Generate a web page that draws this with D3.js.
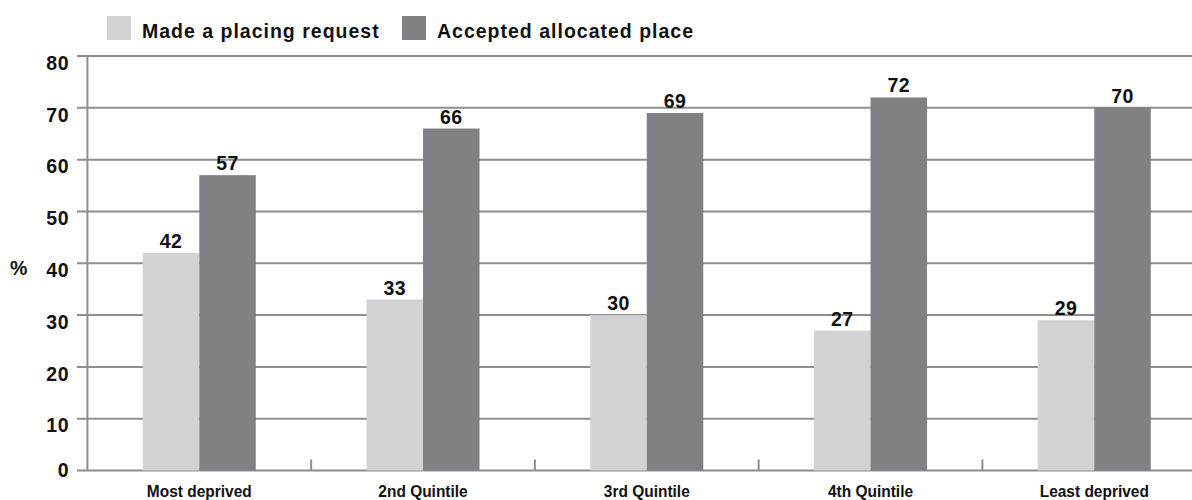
<!DOCTYPE html>
<html>
<head>
<meta charset="utf-8">
<script src="https://cdn.jsdelivr.net/npm/d3@7"></script>
<style>
  html, body { margin: 0; padding: 0; background: #fff; }
  svg { display: block; }
  text { font-family: "Liberation Sans", Arial, Helvetica, sans-serif; font-weight: bold; fill: #111; }
</style>
</head>
<body>
<svg id="chart" width="1192" height="500"></svg>
<script>
// Share of children by deprivation quintile
const categories = ["Most deprived", "2nd Quintile", "3rd Quintile", "4th Quintile", "Least deprived"];
const seriesNames = ["Made a placing request", "Accepted allocated place"];
const placingRequest = [42, 33, 30, 27, 29];
const acceptedPlace = [57, 66, 69, 72, 70];
const yTicks = [0, 10, 20, 30, 40, 50, 60, 70, 80];
const colors = ["#d1d2d4", "#808184"];

const svg = d3.select("#chart");
const gridColor = "#8e8e91";
const labelSize = 19.5;
const spacing = 1;

const x0 = 87.4, step = 223.75;
const x = d3.scaleBand()
  .domain(categories)
  .range([x0, x0 + step * categories.length])
  .padding(0);
const inner = d3.scaleBand()
  .domain([0, 1])
  .range([0, 113])
  .padding(0);

const y = d3.scaleLinear().domain([0, 80]).range([470.5, 56]);

// horizontal gridlines with outward tick stubs
svg.append("g").selectAll("line")
  .data(yTicks)
  .join("line")
  .attr("x1", 77).attr("x2", 1192)
  .attr("y1", d => y(d)).attr("y2", d => y(d))
  .attr("stroke", gridColor).attr("stroke-width", 2);

// y tick labels sit just under their gridline; the zero label is centred on the baseline
svg.append("g").selectAll("text")
  .data(yTicks)
  .join("text")
  .attr("x", 69)
  .attr("y", d => y(d) + (d === 0 ? 6.5 : 13.8))
  .attr("text-anchor", "end")
  .attr("font-size", labelSize)
  .attr("letter-spacing", 0.5)
  .text(d => d);

// vertical axis line
svg.append("line")
  .attr("x1", x0).attr("x2", x0)
  .attr("y1", y(80)).attr("y2", y(0))
  .attr("stroke", gridColor).attr("stroke-width", 2);

// category separators on the baseline
svg.append("g").selectAll("line")
  .data(categories.slice(1))
  .join("line")
  .attr("x1", d => x(d)).attr("x2", d => x(d))
  .attr("y1", y(0)).attr("y2", y(0) - 11)
  .attr("stroke", gridColor).attr("stroke-width", 2);

// "%" axis title
svg.append("text")
  .attr("x", 10).attr("y", 275)
  .attr("font-size", labelSize)
  .text("%");

const rows = categories.map((c, i) => ({ cat: c, vals: [placingRequest[i], acceptedPlace[i]] }));

const groups = svg.append("g").selectAll("g")
  .data(rows)
  .join("g")
  .attr("transform", d => `translate(${x(d.cat) + x.bandwidth() / 2 - inner.range()[1] / 2},0)`);

groups.selectAll("rect")
  .data(d => d.vals.map((v, k) => ({ v, k })))
  .join("rect")
  .attr("x", d => inner(d.k))
  .attr("width", inner.bandwidth())
  .attr("y", d => y(d.v))
  .attr("height", d => y(0) - y(d.v))
  .attr("fill", d => colors[d.k]);

groups.selectAll("text.val")
  .data(d => d.vals.map((v, k) => ({ v, k })))
  .join("text")
  .attr("class", "val")
  .attr("x", d => inner(d.k) + inner.bandwidth() / 2)
  .attr("y", d => y(d.v) - 5)
  .attr("text-anchor", "middle")
  .attr("font-size", labelSize)
  .attr("letter-spacing", 0.5)
  .text(d => d.v);

// category labels, horizontally condensed
svg.append("g").selectAll("text")
  .data(categories)
  .join("text")
  .attr("transform", d => `translate(${x(d) + x.bandwidth() / 2},497) scale(0.91,1)`)
  .attr("text-anchor", "middle")
  .attr("font-size", 17)
  .text(d => d);

// legend
const legendX = [107, 402];
const legend = svg.append("g").selectAll("g")
  .data(seriesNames)
  .join("g")
  .attr("transform", (d, i) => `translate(${legendX[i]},16)`);
legend.append("rect")
  .attr("width", 24).attr("height", 24)
  .attr("fill", (d, i) => colors[i]);
legend.append("text")
  .attr("x", 35).attr("y", 22)
  .attr("font-size", labelSize)
  .attr("letter-spacing", spacing)
  .text(d => d);
</script>
</body>
</html>
